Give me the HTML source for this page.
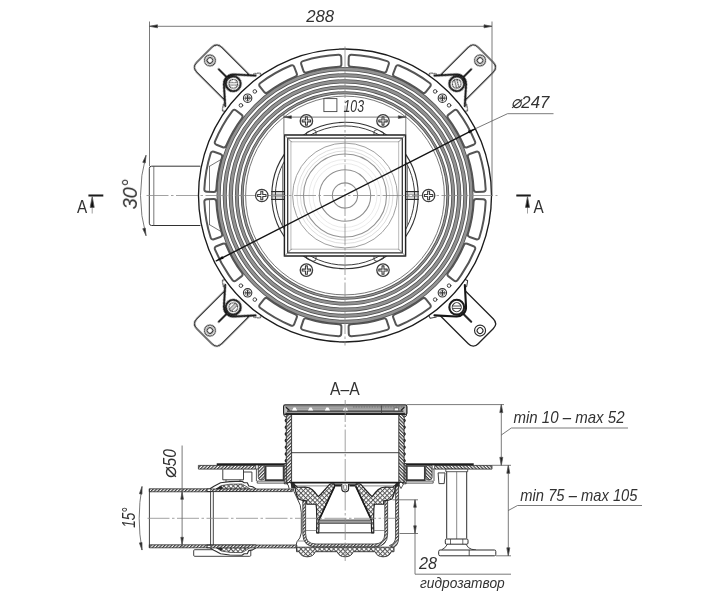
<!DOCTYPE html>
<html lang="ru"><head><meta charset="utf-8"><title>Трап — чертёж</title>
<style>
html,body{margin:0;padding:0;background:#fff;}
body{width:720px;height:600px;overflow:hidden;}
svg{display:block;}
#labels{opacity:0.999;}
text{font-family:"Liberation Sans","DejaVu Sans",sans-serif;fill:#333;}
.it{font-style:italic;}
</style></head><body>
<svg width="720" height="600" viewBox="0 0 720 600">
<defs>
<filter id="soft" x="0" y="0" width="720" height="600" filterUnits="userSpaceOnUse"><feGaussianBlur stdDeviation="0.32"/></filter>
<pattern id="xh" width="3.3" height="3.3" patternUnits="userSpaceOnUse" patternTransform="rotate(45)">
<rect width="3.3" height="3.3" fill="#fff"/><path d="M0 0.5H3.3M0.5 0V3.3" stroke="#555" stroke-width="0.9"/></pattern>
<pattern id="dh" width="2.4" height="2.4" patternUnits="userSpaceOnUse" patternTransform="rotate(45)">
<rect width="2.4" height="2.4" fill="#fff"/><path d="M0.6 0V2.4" stroke="#3a3a3a" stroke-width="1.2"/></pattern>
</defs>
<rect width="720" height="600" fill="#fff"/>
<g filter="url(#soft)">
<g id="plan" fill="none" stroke-linecap="round" stroke-linejoin="round">
<path d="M200 166.2H151.6Q149.3 166.2 149.3 168.5V223.2Q149.3 225.5 151.6 225.5H200" stroke="#333" stroke-width="1"/>
<path d="M153.8 166.4V225.3" stroke="#555" stroke-width="0.8"/>
<g transform="translate(345 195.5) rotate(-45)"><path d="M146 -17.6H192Q199 -17.6 199 -10.6V10.6Q199 17.6 192 17.6H146" fill="#fff" stroke="#222" stroke-width="1.3"/><circle cx="191" cy="0" r="5.5" stroke="#2a2a2a" stroke-width="1.15"/><circle cx="191" cy="0" r="2.9" stroke="#2a2a2a" stroke-width="1.05"/><path d="M165 0H178.5" stroke="#2a2a2a" stroke-width="2.1"/><path d="M143.5 -25.5L147 -26.5L150.5 -21.5M143.5 25.5L147 26.5L150.5 21.5" fill="#fff" stroke="#333" stroke-width="1"/><path d="M141 21.5 L148 21.5 L164.22 6.92 A9.3 9.3 0 0 0 164.22 -6.92 L148 -21.5 L141 -21.5 Z" fill="#fff" stroke="none"/><path d="M148 21.5 L164.22 6.92 A9.3 9.3 0 0 0 164.22 -6.92 L148 -21.5" stroke="#151515" stroke-width="2.1"/><circle cx="158" cy="0" r="7.4" fill="#fff" stroke="#1c1c1c" stroke-width="2.1"/><circle cx="158" cy="0" r="4.5" stroke="#333" stroke-width="1"/><g transform="rotate(120 158 0)"><path d="M154 -1.2H162M154 1.2H162" stroke="#333" stroke-width="0.85"/></g></g>
<g transform="translate(345 195.5) rotate(-135)"><path d="M146 -17.6H192Q199 -17.6 199 -10.6V10.6Q199 17.6 192 17.6H146" fill="#fff" stroke="#222" stroke-width="1.3"/><circle cx="191" cy="0" r="5.5" stroke="#2a2a2a" stroke-width="1.15"/><circle cx="191" cy="0" r="2.9" stroke="#2a2a2a" stroke-width="1.05"/><path d="M165 0H178.5" stroke="#2a2a2a" stroke-width="2.1"/><path d="M143.5 -25.5L147 -26.5L150.5 -21.5M143.5 25.5L147 26.5L150.5 21.5" fill="#fff" stroke="#333" stroke-width="1"/><path d="M141 21.5 L148 21.5 L164.22 6.92 A9.3 9.3 0 0 0 164.22 -6.92 L148 -21.5 L141 -21.5 Z" fill="#fff" stroke="none"/><path d="M148 21.5 L164.22 6.92 A9.3 9.3 0 0 0 164.22 -6.92 L148 -21.5" stroke="#151515" stroke-width="2.1"/><circle cx="158" cy="0" r="7.4" fill="#fff" stroke="#1c1c1c" stroke-width="2.1"/><circle cx="158" cy="0" r="4.5" stroke="#333" stroke-width="1"/><g transform="rotate(135 158 0)"><path d="M154 -1.2H162M154 1.2H162" stroke="#333" stroke-width="0.85"/></g></g>
<g transform="translate(345 195.5) rotate(135)"><path d="M146 -17.6H192Q199 -17.6 199 -10.6V10.6Q199 17.6 192 17.6H146" fill="#fff" stroke="#222" stroke-width="1.3"/><circle cx="191" cy="0" r="5.5" stroke="#2a2a2a" stroke-width="1.15"/><circle cx="191" cy="0" r="2.9" stroke="#2a2a2a" stroke-width="1.05"/><path d="M165 0H178.5" stroke="#2a2a2a" stroke-width="2.1"/><path d="M143.5 -25.5L147 -26.5L150.5 -21.5M143.5 25.5L147 26.5L150.5 21.5" fill="#fff" stroke="#333" stroke-width="1"/><path d="M141 21.5 L148 21.5 L164.22 6.92 A9.3 9.3 0 0 0 164.22 -6.92 L148 -21.5 L141 -21.5 Z" fill="#fff" stroke="none"/><path d="M148 21.5 L164.22 6.92 A9.3 9.3 0 0 0 164.22 -6.92 L148 -21.5" stroke="#151515" stroke-width="2.1"/><circle cx="158" cy="0" r="7.4" fill="#fff" stroke="#1c1c1c" stroke-width="2.1"/><circle cx="158" cy="0" r="4.5" stroke="#333" stroke-width="1"/><g transform="rotate(0 158 0)"><path d="M154 -1.2H162M154 1.2H162" stroke="#333" stroke-width="0.85"/></g></g>
<g transform="translate(345 195.5) rotate(45)"><path d="M146 -17.6H192Q199 -17.6 199 -10.6V10.6Q199 17.6 192 17.6H146" fill="#fff" stroke="#222" stroke-width="1.3"/><circle cx="191" cy="0" r="5.5" stroke="#2a2a2a" stroke-width="1.15"/><circle cx="191" cy="0" r="2.9" stroke="#2a2a2a" stroke-width="1.05"/><path d="M165 0H178.5" stroke="#2a2a2a" stroke-width="2.1"/><path d="M143.5 -25.5L147 -26.5L150.5 -21.5M143.5 25.5L147 26.5L150.5 21.5" fill="#fff" stroke="#333" stroke-width="1"/><path d="M141 21.5 L148 21.5 L164.22 6.92 A9.3 9.3 0 0 0 164.22 -6.92 L148 -21.5 L141 -21.5 Z" fill="#fff" stroke="none"/><path d="M148 21.5 L164.22 6.92 A9.3 9.3 0 0 0 164.22 -6.92 L148 -21.5" stroke="#151515" stroke-width="2.1"/><circle cx="158" cy="0" r="7.4" fill="#fff" stroke="#1c1c1c" stroke-width="2.1"/><circle cx="158" cy="0" r="4.5" stroke="#333" stroke-width="1"/><g transform="rotate(-45 158 0)"><path d="M154 -1.2H162M154 1.2H162" stroke="#333" stroke-width="0.85"/></g></g>
<circle cx="345" cy="195.5" r="146.5" fill="#fff" stroke="#1a1a1a" stroke-width="1.35"/>
<path d="M209.5 166.3V190.5M209.5 200.5V224.7M209.5 166.3L221 159.5M209.5 224.7L221 231.5" stroke="#555" stroke-width="0.8"/>
<path d="M473.66 189.4A128.8 128.8 0 0 0 467.98 157.23Q467.19 154.76 469.65 153.94L476.1 151.79Q478.57 150.96 479.37 153.44A140.8 140.8 0 0 1 485.65 189.07Q485.75 191.67 483.15 191.74L476.35 191.92Q473.75 191.99 473.66 189.4ZM463.81 145.76A128.8 128.8 0 0 0 448.08 118.27Q446.5 116.2 448.54 114.6L453.9 110.42Q455.95 108.81 457.53 110.88A140.8 140.8 0 0 1 474.97 141.35Q475.95 143.76 473.53 144.71L467.21 147.21Q464.79 148.17 463.81 145.76ZM422.23 92.42A128.8 128.8 0 0 0 394.74 76.69Q392.33 75.71 393.29 73.29L395.79 66.97Q396.74 64.55 399.15 65.53A140.8 140.8 0 0 1 429.62 82.97Q431.69 84.55 430.08 86.6L425.9 91.96Q424.3 94 422.23 92.42ZM383.27 72.52A128.8 128.8 0 0 0 351.1 66.84Q348.51 66.75 348.58 64.15L348.76 57.35Q348.83 54.75 351.43 54.85A140.8 140.8 0 0 1 387.06 61.13Q389.54 61.93 388.71 64.4L386.56 70.85Q385.74 73.31 383.27 72.52ZM338.9 66.84A128.8 128.8 0 0 0 306.73 72.52Q304.26 73.31 303.44 70.85L301.29 64.4Q300.46 61.93 302.94 61.13A140.8 140.8 0 0 1 338.57 54.85Q341.17 54.75 341.24 57.35L341.42 64.15Q341.49 66.75 338.9 66.84ZM295.26 76.69A128.8 128.8 0 0 0 267.77 92.42Q265.7 94 264.1 91.96L259.92 86.6Q258.31 84.55 260.38 82.97A140.8 140.8 0 0 1 290.85 65.53Q293.26 64.55 294.21 66.97L296.71 73.29Q297.67 75.71 295.26 76.69ZM241.92 118.27A128.8 128.8 0 0 0 226.19 145.76Q225.21 148.17 222.79 147.21L216.47 144.71Q214.05 143.76 215.03 141.35A140.8 140.8 0 0 1 232.47 110.88Q234.05 108.81 236.1 110.42L241.46 114.6Q243.5 116.2 241.92 118.27ZM222.02 157.23A128.8 128.8 0 0 0 216.34 189.4Q216.25 191.99 213.65 191.92L206.85 191.74Q204.25 191.67 204.35 189.07A140.8 140.8 0 0 1 210.63 153.44Q211.43 150.96 213.9 151.79L220.35 153.94Q222.81 154.76 222.02 157.23ZM216.34 201.6A128.8 128.8 0 0 0 222.02 233.77Q222.81 236.24 220.35 237.06L213.9 239.21Q211.43 240.04 210.63 237.56A140.8 140.8 0 0 1 204.35 201.93Q204.25 199.33 206.85 199.26L213.65 199.08Q216.25 199.01 216.34 201.6ZM226.19 245.24A128.8 128.8 0 0 0 241.92 272.73Q243.5 274.8 241.46 276.4L236.1 280.58Q234.05 282.19 232.47 280.12A140.8 140.8 0 0 1 215.03 249.65Q214.05 247.24 216.47 246.29L222.79 243.79Q225.21 242.83 226.19 245.24ZM267.77 298.58A128.8 128.8 0 0 0 295.26 314.31Q297.67 315.29 296.71 317.71L294.21 324.03Q293.26 326.45 290.85 325.47A140.8 140.8 0 0 1 260.38 308.03Q258.31 306.45 259.92 304.4L264.1 299.04Q265.7 297 267.77 298.58ZM306.73 318.48A128.8 128.8 0 0 0 338.9 324.16Q341.49 324.25 341.42 326.85L341.24 333.65Q341.17 336.25 338.57 336.15A140.8 140.8 0 0 1 302.94 329.87Q300.46 329.07 301.29 326.6L303.44 320.15Q304.26 317.69 306.73 318.48ZM351.1 324.16A128.8 128.8 0 0 0 383.27 318.48Q385.74 317.69 386.56 320.15L388.71 326.6Q389.54 329.07 387.06 329.87A140.8 140.8 0 0 1 351.43 336.15Q348.83 336.25 348.76 333.65L348.58 326.85Q348.51 324.25 351.1 324.16ZM394.74 314.31A128.8 128.8 0 0 0 422.23 298.58Q424.3 297 425.9 299.04L430.08 304.4Q431.69 306.45 429.62 308.03A140.8 140.8 0 0 1 399.15 325.47Q396.74 326.45 395.79 324.03L393.29 317.71Q392.33 315.29 394.74 314.31ZM448.08 272.73A128.8 128.8 0 0 0 463.81 245.24Q464.79 242.83 467.21 243.79L473.53 246.29Q475.95 247.24 474.97 249.65A140.8 140.8 0 0 1 457.53 280.12Q455.95 282.19 453.9 280.58L448.54 276.4Q446.5 274.8 448.08 272.73ZM467.98 233.77A128.8 128.8 0 0 0 473.66 201.6Q473.75 199.01 476.35 199.08L483.15 199.26Q485.75 199.33 485.65 201.93A140.8 140.8 0 0 1 479.37 237.56Q478.57 240.04 476.1 239.21L469.65 237.06Q467.19 236.24 467.98 233.77Z" stroke="#555" stroke-width="2"/>
<circle cx="442.37" cy="98.13" r="4.2" fill="#fff" stroke="#333" stroke-width="1.1"/><path d="M439.87 98.13h5M442.37 95.63v5" stroke="#333" stroke-width="1.2"/><circle cx="442.37" cy="98.13" r="2.6" stroke="#555" stroke-width="0.6"/>
<circle cx="449.08" cy="105.34" r="1.8" stroke="#333" stroke-width="0.9"/>
<circle cx="435.16" cy="91.42" r="1.8" stroke="#333" stroke-width="0.9"/>
<circle cx="247.63" cy="98.13" r="4.2" fill="#fff" stroke="#333" stroke-width="1.1"/><path d="M245.13 98.13h5M247.63 95.63v5" stroke="#333" stroke-width="1.2"/><circle cx="247.63" cy="98.13" r="2.6" stroke="#555" stroke-width="0.6"/>
<circle cx="254.84" cy="91.42" r="1.8" stroke="#333" stroke-width="0.9"/>
<circle cx="240.92" cy="105.34" r="1.8" stroke="#333" stroke-width="0.9"/>
<circle cx="247.63" cy="292.87" r="4.2" fill="#fff" stroke="#333" stroke-width="1.1"/><path d="M245.13 292.87h5M247.63 290.37v5" stroke="#333" stroke-width="1.2"/><circle cx="247.63" cy="292.87" r="2.6" stroke="#555" stroke-width="0.6"/>
<circle cx="240.92" cy="285.66" r="1.8" stroke="#333" stroke-width="0.9"/>
<circle cx="254.84" cy="299.58" r="1.8" stroke="#333" stroke-width="0.9"/>
<circle cx="442.37" cy="292.87" r="4.2" fill="#fff" stroke="#333" stroke-width="1.1"/><path d="M439.87 292.87h5M442.37 290.37v5" stroke="#333" stroke-width="1.2"/><circle cx="442.37" cy="292.87" r="2.6" stroke="#555" stroke-width="0.6"/>
<circle cx="435.16" cy="299.58" r="1.8" stroke="#333" stroke-width="0.9"/>
<circle cx="449.08" cy="285.66" r="1.8" stroke="#333" stroke-width="0.9"/>
<circle cx="345" cy="195.5" r="126.4" stroke="#4c4c4c" stroke-width="4.1"/>
<circle cx="345" cy="195.5" r="126.4" stroke="#929292" stroke-width="2.6"/>
<circle cx="345" cy="195.5" r="120.3" stroke="#4c4c4c" stroke-width="4"/>
<circle cx="345" cy="195.5" r="120.3" stroke="#929292" stroke-width="2.5"/>
<circle cx="345" cy="195.5" r="114.2" stroke="#4c4c4c" stroke-width="4.2"/>
<circle cx="345" cy="195.5" r="114.2" stroke="#929292" stroke-width="2.7"/>
<circle cx="345" cy="195.5" r="108.2" stroke="#4c4c4c" stroke-width="3.8"/>
<circle cx="345" cy="195.5" r="108.2" stroke="#929292" stroke-width="2.3"/>
<circle cx="345" cy="195.5" r="102.8" stroke="#4c4c4c" stroke-width="2.9"/>
<circle cx="345" cy="195.5" r="102.8" stroke="#929292" stroke-width="1.4"/>
<circle cx="345" cy="195.5" r="99.4" stroke="#555" stroke-width="0.8"/>
<circle cx="345" cy="195.5" r="73.2" stroke="#333" stroke-width="1.1"/>
<circle cx="345" cy="195.5" r="69.6" stroke="#3c3c3c" stroke-width="1"/>
<path d="M282.6 166V225M407.4 166V225" stroke="#555" stroke-width="0.8"/>
<g transform="rotate(0 345 195.5)"><path d="M405 191.6H418.3M405 199.4H418.3" stroke="#2a2a2a" stroke-width="1.2"/><path d="M405 194.2H418M405 196.8H418" stroke="#555" stroke-width="0.7"/></g>
<g transform="rotate(180 345 195.5)"><path d="M405 191.6H418.3M405 199.4H418.3" stroke="#2a2a2a" stroke-width="1.2"/><path d="M405 194.2H418M405 196.8H418" stroke="#555" stroke-width="0.7"/></g>
<g transform="rotate(0 345 195.5)"><path d="M306.5 135V132.6L309 131.2M316 135V131L313 129.6M383.5 135V132.6L381 131.2M374 135V131L377 129.6" stroke="#333" stroke-width="0.8"/></g>
<g transform="rotate(180 345 195.5)"><path d="M306.5 135V132.6L309 131.2M316 135V131L313 129.6M383.5 135V132.6L381 131.2M374 135V131L377 129.6" stroke="#333" stroke-width="0.8"/></g>
<rect x="284.4" y="134.9" width="121.2" height="121.2" fill="#fff" stroke="#222" stroke-width="1.45"/>
<rect x="287.7" y="138.2" width="114.6" height="114.6" stroke="#2e2e2e" stroke-width="1.25"/>
<rect x="291.3" y="141.8" width="107.4" height="107.4" stroke="#a8a8a8" stroke-width="0.8"/>
<path d="M284.4 134.9L291.3 141.8M405.6 134.9L398.7 141.8M284.4 256.1L291.3 249.2M405.6 256.1L398.7 249.2" stroke="#555" stroke-width="0.7"/>
<circle cx="345" cy="195.5" r="12.6" stroke="#8e8e8e" stroke-width="1.1"/>
<circle cx="345" cy="195.5" r="25.7" stroke="#8e8e8e" stroke-width="1.1"/>
<circle cx="345" cy="195.5" r="32" stroke="#e4e4e4" stroke-width="0.8"/>
<circle cx="345" cy="195.5" r="36" stroke="#e4e4e4" stroke-width="0.8"/>
<circle cx="345" cy="195.5" r="41.5" stroke="#939393" stroke-width="1.1"/>
<circle cx="345" cy="195.5" r="44.6" stroke="#d4d4d4" stroke-width="0.8"/>
<circle cx="345" cy="195.5" r="48" stroke="#d4d4d4" stroke-width="0.8"/>
<circle cx="345" cy="195.5" r="52.4" stroke="#a0a0a0" stroke-width="1"/>
<path d="M146.5 195.5H497.5" stroke="#8a8a8a" stroke-width="0.8" stroke-dasharray="22 2.5 2.5 2.5" stroke-linecap="butt"/>
<path d="M345 46.5V345.5" stroke="#8a8a8a" stroke-width="0.8" stroke-dasharray="22 2.5 2.5 2.5" stroke-linecap="butt"/>
<circle cx="261.8" cy="195.5" r="6.2" fill="#fff" stroke="#3c3c3c" stroke-width="1.3"/><polygon points="260.85,191.3 262.75,191.3 262.75,194.55 266,194.55 266,196.45 262.75,196.45 262.75,199.7 260.85,199.7 260.85,196.45 257.6,196.45 257.6,194.55 260.85,194.55" fill="none" stroke="#3c3c3c" stroke-width="1.1" stroke-linejoin="round"/>
<circle cx="428.6" cy="195.5" r="6.2" fill="#fff" stroke="#3c3c3c" stroke-width="1.3"/><polygon points="427.65,191.3 429.55,191.3 429.55,194.55 432.8,194.55 432.8,196.45 429.55,196.45 429.55,199.7 427.65,199.7 427.65,196.45 424.4,196.45 424.4,194.55 427.65,194.55" fill="none" stroke="#3c3c3c" stroke-width="1.1" stroke-linejoin="round"/>
<circle cx="306.4" cy="120.9" r="6.2" fill="#fff" stroke="#3c3c3c" stroke-width="1.3"/><polygon points="305.45,116.7 307.35,116.7 307.35,119.95 310.6,119.95 310.6,121.85 307.35,121.85 307.35,125.1 305.45,125.1 305.45,121.85 302.2,121.85 302.2,119.95 305.45,119.95" fill="none" stroke="#3c3c3c" stroke-width="1.1" stroke-linejoin="round"/>
<circle cx="383" cy="120.9" r="6.2" fill="#fff" stroke="#3c3c3c" stroke-width="1.3"/><polygon points="382.05,116.7 383.95,116.7 383.95,119.95 387.2,119.95 387.2,121.85 383.95,121.85 383.95,125.1 382.05,125.1 382.05,121.85 378.8,121.85 378.8,119.95 382.05,119.95" fill="none" stroke="#3c3c3c" stroke-width="1.1" stroke-linejoin="round"/>
<circle cx="306.4" cy="270.1" r="6.2" fill="#fff" stroke="#3c3c3c" stroke-width="1.3"/><polygon points="305.45,265.9 307.35,265.9 307.35,269.15 310.6,269.15 310.6,271.05 307.35,271.05 307.35,274.3 305.45,274.3 305.45,271.05 302.2,271.05 302.2,269.15 305.45,269.15" fill="none" stroke="#3c3c3c" stroke-width="1.1" stroke-linejoin="round"/>
<circle cx="383" cy="270.1" r="6.2" fill="#fff" stroke="#3c3c3c" stroke-width="1.3"/><polygon points="382.05,265.9 383.95,265.9 383.95,269.15 387.2,269.15 387.2,271.05 383.95,271.05 383.95,274.3 382.05,274.3 382.05,271.05 378.8,271.05 378.8,269.15 382.05,269.15" fill="none" stroke="#3c3c3c" stroke-width="1.1" stroke-linejoin="round"/>
<path d="M216.3 260.8 L475.2 128.8" stroke="#151515" stroke-width="1.5"/>
<polygon points="216.3,260.8 222.3,256.06 223.66,258.73" fill="#111"/>
<polygon points="475.2,128.8 469.2,133.54 467.84,130.87" fill="#111"/>
</g>
<g id="section" fill="none" stroke-linejoin="round">
<rect x="149.3" y="488.8" width="61.5" height="3" fill="url(#dh)" stroke="#2e2e2e" stroke-width="0.8"/>
<rect x="149.3" y="544.8" width="61.5" height="3" fill="url(#dh)" stroke="#2e2e2e" stroke-width="0.8"/>
<path d="M149.4 488.8V547.8" stroke="#2e2e2e" stroke-width="0.9"/>
<rect x="193.7" y="549.7" width="57.1" height="6.6" rx="1" fill="#fff" stroke="#2e2e2e" stroke-width="0.9"/>
<path d="M222.8 469.4V479.8H243.5V469.4M243.5 472H251.9V482" stroke="#2e2e2e" stroke-width="0.9"/>
<path d="M226 479.8V482M240 479.8V482" stroke="#2e2e2e" stroke-width="0.8"/>
<path d="M207 489L209.9 488.8L214.4 486L220.6 482.8L229.7 481.6L242 481.3L244.2 482.8L247.3 482.8L248.8 486L252.6 486.7L255.7 488.6L255.7 491.5 L207 491.5 Z" fill="#fff" stroke="#2e2e2e" stroke-width="1.1"/>
<path d="M216 489L221.3 485.6L230 484.2L242 484L246.5 486.6L250 489 Z" fill="url(#xh)" stroke="#2e2e2e" stroke-width="0.7"/>
<path d="M216 489 L221.5 485.6 L222.5 489 Z" fill="#222"/>
<path d="M207 547.6L209.9 547.8L214.4 550.6L220.6 553.8L229.7 555L242 555.3L244.2 553.8L247.3 553.8L248.8 550.6L252.6 549.9L255.7 548L255.7 545.1 L207 545.1 Z" fill="#fff" stroke="#2e2e2e" stroke-width="1.1"/>
<path d="M216 547.6L221.3 551L230 552.4L242 552.6L246.5 550L250 547.6 Z" fill="url(#xh)" stroke="#2e2e2e" stroke-width="0.7"/>
<path d="M216 547.6 L221.5 551 L222.5 547.6 Z" fill="#222"/>
<rect x="210.8" y="489" width="81.5" height="2.6" fill="url(#dh)" stroke="#2e2e2e" stroke-width="0.8"/>
<rect x="210.8" y="545" width="86" height="2.9" fill="url(#dh)" stroke="#2e2e2e" stroke-width="0.8"/>
<path d="M210.6 491.6V545M213.3 491.6V545" stroke="#2e2e2e" stroke-width="0.9"/>
<rect x="198.4" y="465.4" width="57.3" height="3.7" fill="url(#dh)" stroke="#2e2e2e" stroke-width="0.8"/>
<g transform="translate(690.4 0) scale(-1 1)"><rect x="198.4" y="465.4" width="57.3" height="3.7" fill="url(#dh)" stroke="#2e2e2e" stroke-width="0.8"/></g>
<rect x="216.7" y="463.3" width="71.3" height="2.1" fill="#1e1e1e"/>
<g transform="translate(690.4 0) scale(-1 1)"><rect x="216.7" y="463.3" width="71.3" height="2.1" fill="#1e1e1e"/></g>
<rect x="265.6" y="466" width="18" height="14.2" fill="#fff" stroke="#3a3a3a" stroke-width="1.7"/>
<g transform="translate(690.4 0) scale(-1 1)"><rect x="265.6" y="466" width="18" height="14.2" fill="#fff" stroke="#3a3a3a" stroke-width="1.7"/></g>
<rect x="257.2" y="481.1" width="31" height="2" fill="#fff" stroke="#2e2e2e" stroke-width="0.8"/>
<g transform="translate(690.4 0) scale(-1 1)"><rect x="257.2" y="481.1" width="31" height="2" fill="#fff" stroke="#2e2e2e" stroke-width="0.8"/></g>
<path d="M258.3 465.4V477.5Q258.3 480 261.5 480Q264.7 480 264.7 477.5V465.4Z" fill="url(#dh)" stroke="#2e2e2e" stroke-width="0.8"/>
<g transform="translate(690.4 0) scale(-1 1)"><path d="M258.3 465.4V477.5Q258.3 480 261.5 480Q264.7 480 264.7 477.5V465.4Z" fill="url(#dh)" stroke="#2e2e2e" stroke-width="0.8"/></g>
<path d="M256.4 469V481M256.4 469H258" stroke="#2e2e2e" stroke-width="0.8"/>
<g transform="translate(690.4 0) scale(-1 1)"><path d="M256.4 469V481M256.4 469H258" stroke="#2e2e2e" stroke-width="0.8"/></g>
<rect x="284.3" y="463.5" width="3.4" height="20.3" fill="url(#dh)" stroke="#2e2e2e" stroke-width="0.8"/>
<g transform="translate(690.4 0) scale(-1 1)"><rect x="284.3" y="463.5" width="3.4" height="20.3" fill="url(#dh)" stroke="#2e2e2e" stroke-width="0.8"/></g>
<path d="M290.7 483L294.6 483L295.2 488.3L291.3 488.3Z" fill="#2c2c2c"/>
<g transform="translate(690.4 0) scale(-1 1)"><path d="M290.7 483L294.6 483L295.2 488.3L291.3 488.3Z" fill="#2c2c2c"/></g>
<path d="M286 483.2Q288.6 483.6 289.2 488.8" stroke="#2e2e2e" stroke-width="0.9"/>
<rect x="286.3" y="414" width="5.3" height="68.5" fill="url(#dh)" stroke="#2e2e2e" stroke-width="0.9"/>
<g transform="translate(690.4 0) scale(-1 1)"><rect x="286.3" y="414" width="5.3" height="68.5" fill="url(#dh)" stroke="#2e2e2e" stroke-width="0.9"/></g>
<path d="M286.3 419q-2.2 1.5 0 3M286.3 425.7q-2.2 1.5 0 3M286.3 432.4q-2.2 1.5 0 3M286.3 439.1q-2.2 1.5 0 3M286.3 445.8q-2.2 1.5 0 3M286.3 452.5q-2.2 1.5 0 3M286.3 459.2q-2.2 1.5 0 3" stroke="#222" stroke-width="1.2" fill="#555"/>
<g transform="translate(690.4 0) scale(-1 1)"><path d="M286.3 419q-2.2 1.5 0 3M286.3 425.7q-2.2 1.5 0 3M286.3 432.4q-2.2 1.5 0 3M286.3 439.1q-2.2 1.5 0 3M286.3 445.8q-2.2 1.5 0 3M286.3 452.5q-2.2 1.5 0 3M286.3 459.2q-2.2 1.5 0 3" stroke="#222" stroke-width="1.2" fill="#555"/></g>
<path d="M283.6 406.5V413.5Q283.6 416.8 286.3 417.2" stroke="#2e2e2e" stroke-width="1"/>
<g transform="translate(690.4 0) scale(-1 1)"><path d="M283.6 406.5V413.5Q283.6 416.8 286.3 417.2" stroke="#2e2e2e" stroke-width="1"/></g>
<rect x="283.6" y="404.9" width="123.2" height="9.5" rx="1.5" fill="#c2c2c2" stroke="#262626" stroke-width="1.1"/>
<path d="M285 406.9H405.4" stroke="#555" stroke-width="0.7"/>
<path d="M287 408.9H403.4" stroke="#777" stroke-width="0.8"/>
<path d="M287 411.1H403.4" stroke="#2a2a2a" stroke-width="1.2"/>
<path d="M285.5 413.4H404.9" stroke="#2a2a2a" stroke-width="1.3"/>
<path d="M292 410.4L293.6 407.4H295.6L297.2 410.4ZM308 410.4L309.6 407.4H311.6L313.2 410.4ZM324.8 410.4L326.4 407.4H328.4L330 410.4ZM342.8 410.4L344.4 407.4H346.4L348 410.4Z" fill="#fff"/>
<path d="M353 406.7H404.5" stroke="#7a7a7a" stroke-width="1.9" stroke-dasharray="0.8 0.8"/>
<rect x="394.2" y="408" width="4.4" height="2.8" fill="#fff" stroke="#333" stroke-width="0.6"/>
<path d="M381.5 405.5V413.5" stroke="#444" stroke-width="0.8"/>
<path d="M286 407.3L289.5 410.5M404.4 407.3L400.9 410.5" stroke="#222" stroke-width="1.2"/>
<path d="M291.6 452.7H398.8" stroke="#2e2e2e" stroke-width="0.9"/>
<path d="M290.5 482.6H399.9" stroke="#1e1e1e" stroke-width="1.6"/>
<path d="M296 485.9H330M360.4 485.9H394.4" stroke="#555" stroke-width="0.7"/>
<path d="M292 484.4Q293.5 492 297 498Q301.3 505 301.3 512.5V533Q300.5 538.5 297 541.7L296 545.5" stroke="#2e2e2e" stroke-width="0.9"/>
<path d="M395.6 486V537Q395.6 543.5 389.5 545.6L393.5 547.6Q398.6 545 398.6 538V486Z" fill="url(#dh)" stroke="#2e2e2e" stroke-width="0.8"/>
<path d="M398.6 484L401 488.5L403.5 484" stroke="#2e2e2e" stroke-width="0.8"/>
<path d="M296.5 547.2H394L394 551.7H391.2Q389.5 556.8 383.2 556.8Q376.9 556.8 375.2 551.7H353.2Q351.5 556.8 345.2 556.8Q338.9 556.8 337.2 551.7H315.2Q313.5 556.8 307.2 556.8Q300.9 556.8 299.2 551.7H296.5Z" fill="url(#xh)" stroke="#2e2e2e" stroke-width="0.9"/>
<path d="M302.8 500V533.7Q302.8 546.8 315.8 546.8H374.6Q387.6 546.8 387.6 533.7V500L384.8 500V533.4Q384.8 544 374.3 544H316.1Q305.6 544 305.6 533.4V500Z" fill="url(#dh)" stroke="#2e2e2e" stroke-width="0.8"/>
<path d="M294.5 484.6L297.5 487.3L305 487L309 487.8L312.5 489.8L315.5 493L318.3 496.7L321 494L329.4 484.6L331 483.8L334.2 483.8L334.6 486.3L319.2 519.6L318.8 532.8L316.6 532.8L316.8 519.4L316.5 508.5L316 504.2L306.8 504.2L306.6 500.8L302 500.2L298.5 499L297 496L295.6 491 Z" fill="url(#xh)" stroke="#222" stroke-width="1.15"/>
<g transform="translate(690.4 0) scale(-1 1)"><path d="M294.5 484.6L297.5 487.3L305 487L309 487.8L312.5 489.8L315.5 493L318.3 496.7L321 494L329.4 484.6L331 483.8L334.2 483.8L334.6 486.3L319.2 519.6L318.8 532.8L316.6 532.8L316.8 519.4L316.5 508.5L316 504.2L306.8 504.2L306.6 500.8L302 500.2L298.5 499L297 496L295.6 491 Z" fill="url(#xh)" stroke="#222" stroke-width="1.15"/></g>
<path d="M334.6 486.3L319.2 519.6" stroke="#1c1c1c" stroke-width="1.6"/>
<g transform="translate(690.4 0) scale(-1 1)"><path d="M334.6 486.3L319.2 519.6" stroke="#1c1c1c" stroke-width="1.6"/></g>
<path d="M334 484.2H341.8V488.6Q341.8 491.9 345.2 491.9Q348.6 491.9 348.6 488.6V484.2H356.4" stroke="#222" stroke-width="1.1"/>
<path d="M343.7 485V488.6Q343.7 490.2 345.2 490.2Q346.7 490.2 346.7 488.6V485" stroke="#444" stroke-width="0.7"/>
<path d="M335 485.8H341M349.4 485.8H355.4" stroke="#222" stroke-width="1.6"/>
<rect x="318.8" y="520" width="52.8" height="3.3" fill="#9c9c9c" stroke="#2e2e2e" stroke-width="0.8"/>
<path d="M316.6 532.8H373.8" stroke="#2e2e2e" stroke-width="1"/>
<path d="M305.8 530.5H316.6M373.8 530.5H384.6M298 541H305" stroke="#666" stroke-width="0.7"/>
<path d="M438.1 472.9H445L444.2 483.6H438.9Z" fill="#fff" stroke="#2e2e2e" stroke-width="0.9"/>
<rect x="445.8" y="469.1" width="21.9" height="2.6" fill="#fff" stroke="#2e2e2e" stroke-width="0.8"/>
<path d="M446.7 471.7V538.6M466.7 471.7V538.6" stroke="#2e2e2e" stroke-width="1"/>
<path d="M456.7 471.7V539" stroke="#555" stroke-width="0.7"/>
<rect x="445.3" y="539" width="22.7" height="5.2" rx="1.2" fill="#fff" stroke="#2e2e2e" stroke-width="1"/>
<path d="M450.5 539V544.2M462.8 539V544.2" stroke="#2e2e2e" stroke-width="0.7"/>
<path d="M447.5 544.2Q445 548.5 441.7 549.8M466 544.2Q468 548.5 471.7 549.3L476 550" stroke="#2e2e2e" stroke-width="0.9"/>
<rect x="438.7" y="550" width="57.1" height="5.8" rx="1.4" fill="#fff" stroke="#2e2e2e" stroke-width="1"/>
<path d="M469.2 550V555.8" stroke="#2e2e2e" stroke-width="0.8"/>
<path d="M147.5 518.3H400" stroke="#8a8a8a" stroke-width="0.8" stroke-dasharray="22 2.5 2.5 2.5"/>
<path d="M345.2 400V561" stroke="#8a8a8a" stroke-width="0.8" stroke-dasharray="22 2.5 2.5 2.5"/>
</g>
<g id="dims" fill="none" stroke="#585858" stroke-width="0.8">
<path d="M149.5 21.5V166M492 21.5V195.5M149.5 26.3H492"/>
<polygon points="149.5,26.3 157.5,24.8 157.5,27.8" fill="#1c1c1c"/>
<polygon points="492,26.3 484,27.8 484,24.8" fill="#1c1c1c"/>
<path d="M283.9 113.5V134.5M405.8 113.5V134.5M283.9 117.1H405.8"/>
<polygon points="283.9,117.1 291.4,115.8 291.4,118.4" fill="#1c1c1c"/>
<polygon points="405.8,117.1 398.3,118.4 398.3,115.8" fill="#1c1c1c"/>
<rect x="323.9" y="98.6" width="13" height="13" stroke="#444" stroke-width="0.9"/>
<path d="M475.2 128.8L507.5 113.7H553.5"/>
<path d="M145.99 155.39 A152 152 0 0 0 145.99 235.61"/>
<polygon points="145.99,155.39 145.26,162.97 142.75,162.28" fill="#1c1c1c"/>
<polygon points="145.99,235.61 142.75,228.72 145.26,228.03" fill="#1c1c1c"/>
<path d="M88.4 195.5H103.3M516.3 195.5H530.8" stroke="#1c1c1c" stroke-width="1.9"/>
<path d="M92.2 200V213.5M527.5 200V213.5" stroke="#777" stroke-width="0.7"/>
<polygon points="92.2,196.6 94.2,207.4 90.2,207.4" fill="#111"/>
<polygon points="527.5,196.6 529.5,207.4 525.5,207.4" fill="#111"/>
<path d="M142 486.56 A181 181 0 0 0 142 550.04"/>
<polygon points="142,486.56 141.97,494.17 139.41,493.71" fill="#1c1c1c"/>
<polygon points="142,550.04 139.41,542.89 141.97,542.43" fill="#1c1c1c"/>
<path d="M182.1 445.5V548"/>
<polygon points="182.1,491.8 183.4,499.3 180.8,499.3" fill="#1c1c1c"/>
<polygon points="182.1,544.8 180.8,537.3 183.4,537.3" fill="#1c1c1c"/>
<path d="M406.8 404.6H504M492 465.3H511M501.3 404.6V465.3M501.3 435L511.3 428H628"/>
<polygon points="501.3,404.6 502.8,412.6 499.8,412.6" fill="#1c1c1c"/>
<polygon points="501.3,465.3 499.8,457.3 502.8,457.3" fill="#1c1c1c"/>
<path d="M496 555.8H511M508.3 465.3V555.8M508.3 510.5L517.5 505.5H642"/>
<polygon points="508.3,465.3 509.8,473.3 506.8,473.3" fill="#1c1c1c"/>
<polygon points="508.3,555.8 506.8,547.8 509.8,547.8" fill="#1c1c1c"/>
<path d="M392.5 499.8H418M399.5 533.5H418M415 499.8V574.2H511"/>
<polygon points="415,499.8 416.3,507.3 413.7,507.3" fill="#1c1c1c"/>
<polygon points="415,533.3 413.7,525.8 416.3,525.8" fill="#1c1c1c"/>
</g>
<g id="labels">
<text x="306.2" y="21.7" font-size="16.7" class="it" textLength="28" lengthAdjust="spacingAndGlyphs" text-anchor="start">288</text>
<text x="343.5" y="111.7" font-size="16.7" class="it" textLength="20.5" lengthAdjust="spacingAndGlyphs" text-anchor="start">103</text>
<text x="521.3" y="107.5" font-size="16.3" class="it" textLength="28" lengthAdjust="spacingAndGlyphs" text-anchor="start">247</text>
<text x="512" y="107.8" font-size="17.5" style="font-family:'DejaVu Sans',sans-serif;font-weight:200" transform="translate(516 101) skewX(-12) translate(-516 -101)">⌀</text>
<text x="136.4" y="209.5" font-size="21" class="it" textLength="30.5" lengthAdjust="spacingAndGlyphs" transform="rotate(-90 136.4 209.5)" text-anchor="start">30°</text>
<text x="77" y="213.3" font-size="18" textLength="10.2" lengthAdjust="spacingAndGlyphs" text-anchor="start">A</text>
<text x="533.4" y="213.3" font-size="17.5" textLength="10.2" lengthAdjust="spacingAndGlyphs" text-anchor="start">A</text>
<text x="330" y="395" font-size="17.5" textLength="29.6" lengthAdjust="spacingAndGlyphs" text-anchor="start">A–A</text>
<text x="513.5" y="423.3" font-size="15.7" class="it" textLength="111" lengthAdjust="spacingAndGlyphs" text-anchor="start">min 10 – max 52</text>
<text x="520.3" y="500.8" font-size="15.7" class="it" textLength="117.2" lengthAdjust="spacingAndGlyphs" text-anchor="start">min 75 – max 105</text>
<text x="419" y="568.9" font-size="16.3" class="it" textLength="18" lengthAdjust="spacingAndGlyphs" text-anchor="start">28</text>
<text x="420" y="588.3" font-size="15.4" class="it" textLength="84.7" lengthAdjust="spacingAndGlyphs" text-anchor="start">гидрозатвор</text>
<text x="175.6" y="477.5" font-size="18" class="it" transform="rotate(-90 175.6 477.5)"><tspan style="font-family:'DejaVu Sans',sans-serif;font-weight:200;font-style:normal" font-size="19.5">⌀</tspan><tspan dx="-1" textLength="17.5" lengthAdjust="spacingAndGlyphs">50</tspan></text>
<text x="134.8" y="527.8" font-size="17.8" class="it" textLength="20.5" lengthAdjust="spacingAndGlyphs" transform="rotate(-90 134.8 527.8)" text-anchor="start">15°</text>
</g>
</g>
</svg>
</body></html>
